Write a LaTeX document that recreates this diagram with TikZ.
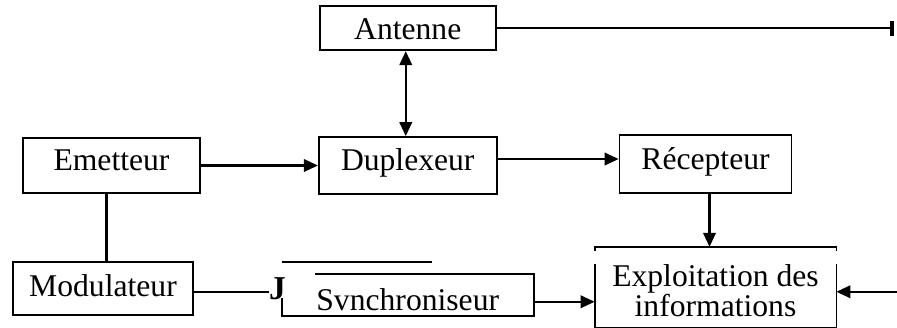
\documentclass[tikz,border=0pt]{standalone}
\usepackage{fontspec}
\setmainfont{Liberation Serif}
\usetikzlibrary{arrows.meta, positioning}

\begin{document}
\begin{tikzpicture}[
    node distance=1.5cm and 2.4cm,
    box/.style={rectangle, draw=black, line width=1pt, minimum height=1.14cm,
                font=\fontsize{18}{18}\selectfont, inner xsep=0pt, inner ysep=0.02cm,
                text height=0.5cm, text depth=0.3cm, align=center},
    frame/.style={line width=1pt},
    line/.style={line width=1.2pt},
    link/.style={-{Triangle[length=2.8mm, width=2.5mm]}, line width=1.2pt},
    dlink/.style={{Triangle[length=2.8mm, width=2.5mm]}-{Triangle[length=2.8mm, width=2.5mm]}, line width=1.2pt},
]
\useasboundingbox (0,0) rectangle (17.94,-6.54);

% Middle row
\node[box, minimum width=3.54cm, minimum height=1.1cm] (emet) at (2.23,-3.31) {Emetteur};
\node[box, minimum width=3.56cm, right=2.34cm of emet] (dup) {Duplexeur};
\node[box, minimum width=3.44cm, minimum height=1.16cm, right=2.42cm of dup, yshift=0.03cm]
     (rec) {Récepteur};

% Top
\node[box, minimum width=3.52cm, minimum height=0.88cm, text height=0.64cm, text depth=0.18cm,
      above=1.7cm of dup] (ant) {Antenne};
\coordinate[right=7.94cm of ant] (antend);

% Bottom row
\node[box, minimum width=3.6cm, minimum height=1.06cm, text height=0.55cm, text depth=0.21cm,
      below=1.34cm of emet, xshift=-0.17cm] (modu) {Modulateur};
\node[right=1.5cm of modu, inner sep=0pt, font=\fontsize{19}{19}\selectfont\bfseries] (jmark) {J};
\node[box, draw=none, minimum width=5cm, minimum height=0.8cm, text height=0.7cm, text depth=0.06cm,
      below=1.58cm of dup] (sync) {Svnchroniseur};
\node[box, draw=none, minimum width=4.8cm, minimum height=1.58cm, text height=1.24cm, text depth=0.06cm,
      font=\fontsize{18}{16}\selectfont, below=1.06cm of rec, xshift=0.2cm]
     (expl) {Exploitation des\\informations};
\coordinate[right=1.3cm of expl, yshift=-0.09cm] (src);

% Broken frames
\draw[frame] ([yshift=-0.48cm]sync.north west) -- (sync.south west) -- (sync.south east)
     -- (sync.north east) -- ([xshift=0.66cm]sync.north west);
\draw[frame] ([yshift=0.24cm]sync.north west) -- ++(3cm,0);
\draw[frame] ([yshift=-0.08cm]expl.north west) -- (expl.north west) -- (expl.north east)
     -- ([yshift=-0.08cm]expl.north east);
\draw[frame] ([yshift=-0.34cm]expl.north west) -- (expl.south west) -- (expl.south east)
     -- ([yshift=-0.34cm]expl.north east);

% Connections
\draw[dlink] ([xshift=-0.04cm]dup.north) -- ([xshift=-0.04cm]ant.south);
\draw[line, -{Bar[width=3mm, line width=2.2pt]}] (ant) -- (antend);
\draw[link] (emet) -- (dup);
\draw[link] ([yshift=0.13cm]dup.east) -- ([yshift=0.13cm]dup.east -| rec.west);
\draw[link] ([xshift=0.08cm]rec.south) -- ([xshift=0.08cm]rec.south |- expl.north);
\draw[line] ([xshift=-0.1cm]emet.south) -- ([xshift=-0.1cm]emet.south |- modu.north);
\draw[line] ([yshift=-0.07cm]modu.east) -- ([yshift=-0.07cm]modu.east -| jmark.west);
\draw[link] ([yshift=-0.14cm]sync.east) -- ([yshift=-0.14cm]sync.east -| expl.west);
\draw[link] (src) -- (src -| expl.east);

\end{tikzpicture}
\end{document}
